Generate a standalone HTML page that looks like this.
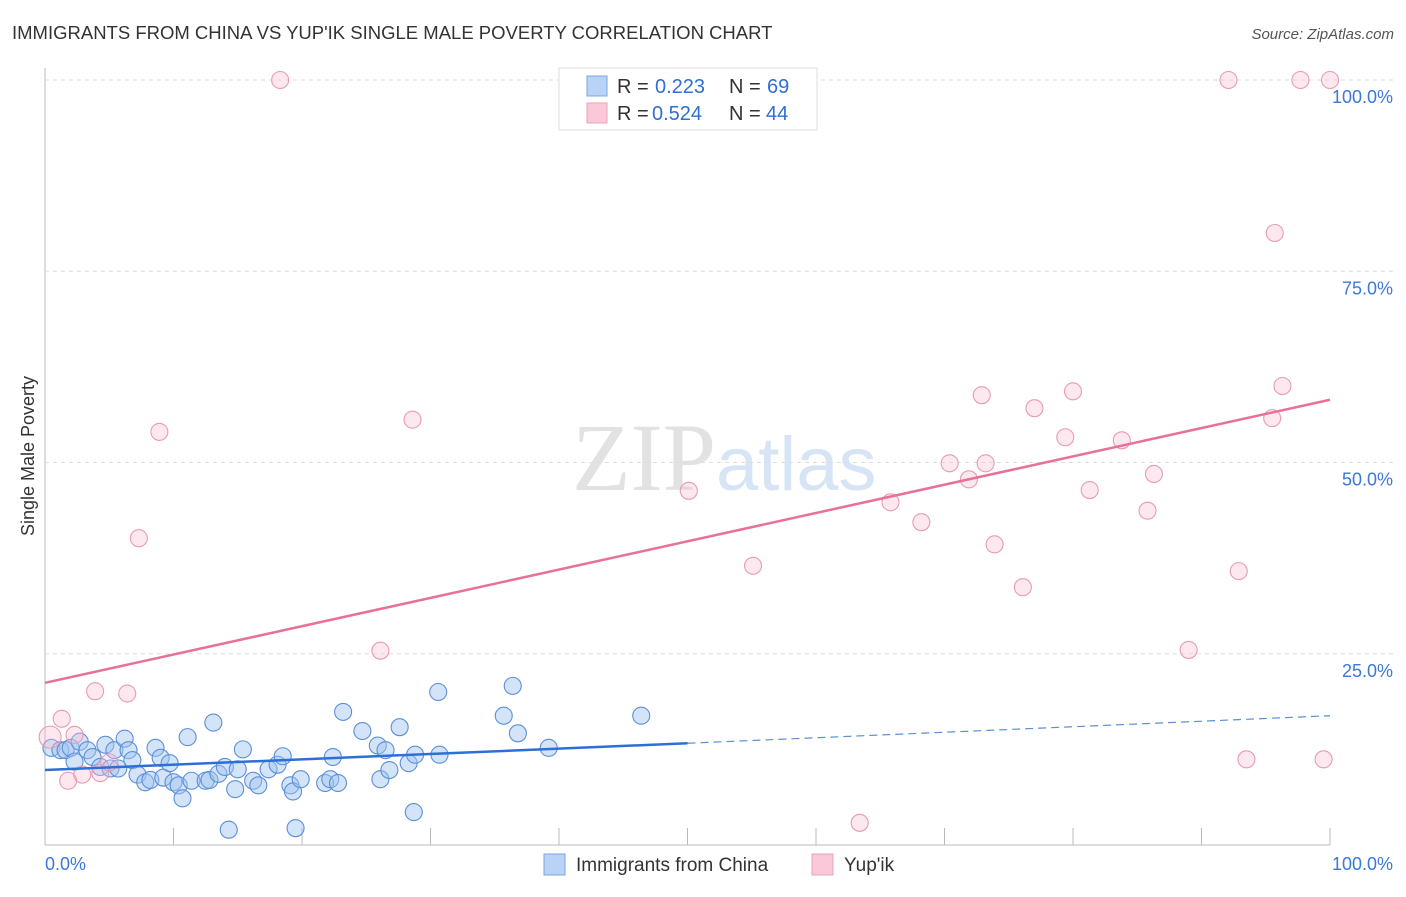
<!DOCTYPE html>
<html><head><meta charset="utf-8"><style>
body{margin:0;background:#fff;font-family:"Liberation Sans",sans-serif;}
</style></head><body>
<svg id="c" width="1406" height="892" xmlns="http://www.w3.org/2000/svg" style="font-family:'Liberation Sans',sans-serif">
<text x="12" y="39" font-size="18.5" fill="#333">IMMIGRANTS FROM CHINA VS YUP'IK SINGLE MALE POVERTY CORRELATION CHART</text>
<text x="1394" y="39" font-size="15" fill="#555" font-style="italic" text-anchor="end">Source: ZipAtlas.com</text>
<text x="34" y="456" font-size="18" fill="#333" transform="rotate(-90 34 456)" text-anchor="middle">Single Male Poverty</text>
<text x="716" y="490" font-size="96" fill="#e2e2e2" text-anchor="end" font-family="Liberation Serif">ZIP</text>
<text x="716" y="490" font-size="76" fill="#d6e4f5">atlas</text>
<g id="grid"></g><g id="pts"></g><g id="lines"></g>
<g>
<rect x="559" y="68" width="258" height="62" fill="#fff" stroke="#ddd"/>
<rect x="587" y="76" width="20" height="20" fill="#b8d3f5" stroke="#7aa7e0"/>
<rect x="587" y="103" width="20" height="20" fill="#fac8d8" stroke="#eba2bb"/>
<text x="617" y="93" font-size="20" fill="#333">R =</text>
<text x="655" y="93" font-size="20" fill="#2f6fd6">0.223</text>
<text x="729" y="93" font-size="20" fill="#333">N =</text>
<text x="767" y="93" font-size="20" fill="#2f6fd6">69</text>
<text x="617" y="120" font-size="20" fill="#333">R =</text>
<text x="652" y="120" font-size="20" fill="#2f6fd6">0.524</text>
<text x="729" y="120" font-size="20" fill="#333">N =</text>
<text x="766" y="120" font-size="20" fill="#2f6fd6">44</text>
</g>
<g>
<rect x="544" y="854" width="21" height="21" fill="#b8d3f5" stroke="#7aa7e0"/>
<text x="576" y="871" font-size="19" fill="#333">Immigrants from China</text>
<rect x="812" y="854" width="21" height="21" fill="#fac8d8" stroke="#eba2bb"/>
<text x="844" y="871" font-size="19" fill="#333">Yup'ik</text>
</g>
<text x="45" y="870" font-size="18" fill="#3b78d8">0.0%</text>
<text x="1393" y="870" font-size="18" fill="#3b78d8" text-anchor="end">100.0%</text>
</svg>
<script>
const yTicks=[25,50,75,100];
const yTickLabels=["25.0%","50.0%","75.0%","100.0%"];
const xTicks=[0,10,20,30,40,50,60,70,80,90,100];
const chinaX=[0.5,1.2,1.6,2,2.3,2.7,3.3,3.7,4.3,4.7,5.1,5.4,5.7,6.2,6.5,6.8,7.2,7.8,8.2,8.6,9,9.2,9.7,10,10.4,10.7,11.1,11.4,12.5,12.8,13.1,13.5,14,14.3,14.8,15,15.4,16.2,16.6,17.4,18.1,18.5,19.1,19.3,19.5,19.9,21.8,22.2,22.4,22.8,23.2,24.7,25.9,26.1,26.5,26.8,27.6,28.3,28.7,28.8,30.6,30.7,35.7,36.4,36.8,39.2,46.4];
const chinaY=[12.7,12.4,12.4,12.7,10.9,13.5,12.4,11.5,10.2,13.1,10,12.4,10,13.9,12.4,11.1,9.2,8.2,8.5,12.7,11.4,8.8,10.7,8.2,7.8,6.1,14.1,8.4,8.4,8.5,16,9.3,10.2,2,7.3,9.9,12.5,8.4,7.8,9.9,10.5,11.6,7.8,7,2.2,8.6,8.1,8.6,11.5,8.1,17.4,14.9,13,8.6,12.4,9.8,15.4,10.7,4.3,11.8,20,11.8,16.9,20.8,14.6,12.7,16.9];
const yupikX=[0.4,1.3,1.8,2.3,2.9,3.9,4.3,5,6.4,7.3,8.9,18.3,26.1,28.6,50.1,55.1,63.4,65.8,68.2,70.4,71.9,72.9,73.2,73.9,76.1,77,79.4,80,81.3,83.8,85.8,86.3,89,92.1,92.9,93.5,95.5,95.7,96.3,97.7,99.5,100];
const yupikY=[14.1,16.5,8.4,14.4,9.2,20.1,9.4,10.8,19.8,40.1,54,100,25.4,55.6,46.3,36.5,2.9,44.8,42.2,49.9,47.8,58.8,49.9,39.3,33.7,57.1,53.3,59.3,46.4,52.9,43.7,48.5,25.5,100,35.8,11.2,55.8,80,60,100,11.2,100];
const chinaTrend=[9.8,13.3,16.9];
const yupikTrend=[21.2,58.2];
const NS="http://www.w3.org/2000/svg";
const X=v=>45+v*12.85, Y=v=>845-v*7.65;
function mk(t,a,p){const e=document.createElementNS(NS,t);for(const k in a)e.setAttribute(k,a[k]);p.appendChild(e);return e;}
const g=document.getElementById('grid');
let ax=mk('line',{x1:45,y1:68,x2:45,y2:845,stroke:'#bbb'},g);


let bx=mk('line',{x1:45,y1:845,x2:1330,y2:845,stroke:'#bbb'},g);


yTicks.forEach((v,i)=>{
 let l=mk('line',{x1:45,y1:Y(v),x2:1394,y2:Y(v),stroke:'#ddd','stroke-dasharray':'4,4'},g);
 
 
 let t=mk('text',{x:1393,y:Y(v)+23,'font-size':18,fill:'#3b78d8','text-anchor':'end'},g);t.textContent=yTickLabels[i];
 
 
});
xTicks.forEach(v=>{let l=mk('line',{x1:X(v),y1:828,x2:X(v),y2:845,stroke:'#bbb'},g);
 
 });
const p=document.getElementById('pts');
chinaX.forEach((v,i)=>{let c=mk('circle',{cx:X(v),cy:Y(chinaY[i]),r:8.5,fill:'rgba(160,196,240,0.45)',stroke:'#5b8fd8','stroke-width':1.1},p);
 
 });
yupikX.forEach((v,i)=>{let c=mk('circle',{cx:X(v),cy:Y(yupikY[i]),r:i==0?11:8.5,fill:'rgba(248,190,210,0.35)',stroke:'#e89ab5','stroke-width':1.1},p);
 
 });
const L=document.getElementById('lines');
let b1=mk('line',{x1:X(0),y1:Y(chinaTrend[0]),x2:X(50),y2:Y(chinaTrend[1]),stroke:'#2c6fd6','stroke-width':2.5},L);


let b2=mk('line',{x1:X(50),y1:Y(chinaTrend[1]),x2:X(100),y2:Y(chinaTrend[2]),stroke:'#5b8fd8','stroke-width':1.2,'stroke-dasharray':'8,5'},L);


let pl=mk('line',{x1:X(0),y1:Y(yupikTrend[0]),x2:X(100),y2:Y(yupikTrend[1]),stroke:'#e8709a','stroke-width':2.5},L);


</script>
</body></html>
